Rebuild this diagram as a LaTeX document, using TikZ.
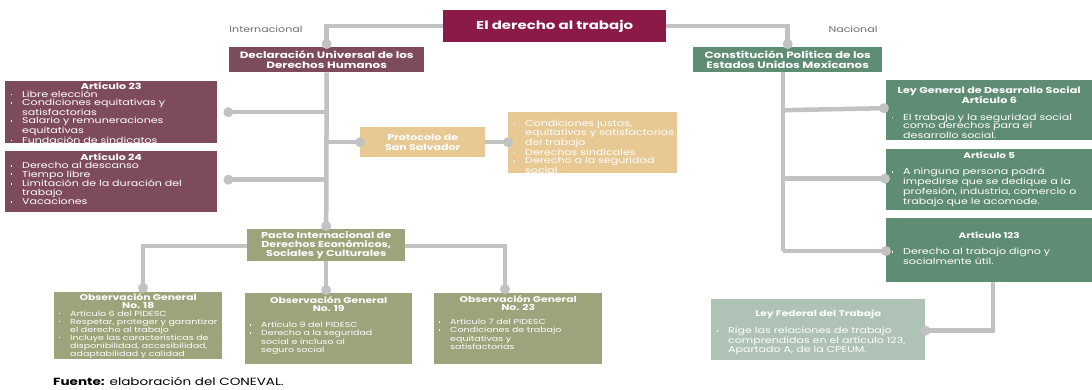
\documentclass[tikz,border=0pt]{standalone}
\usepackage{fontspec}
\setmainfont{Poppins}[FakeStretch=1.3]
\definecolor{crim}{HTML}{8C1A48}
\definecolor{mauve}{HTML}{7E4B5C}
\definecolor{tan}{HTML}{E8C994}
\definecolor{olive}{HTML}{9DA47B}
\definecolor{green}{HTML}{5F8D74}
\definecolor{sage}{HTML}{AEC3B5}
\definecolor{linegray}{HTML}{C2C2C2}
\definecolor{labgray}{HTML}{6E6E6E}
\newcommand{\tsz}{8.5}
% \bx{inner width}{height}{first baseline}{content}
\newcommand{\bx}[4]{\parbox[c][#2pt][t]{#1pt}{\kern\dimexpr#3pt-\baselineskip\relax\hbox{}#4}}
\newcommand{\bi}[1]{\par\noindent\makebox[13pt][l]{\hspace{1.5pt}\raisebox{2pt}{\rule{1.7pt}{1.7pt}}}\mbox{#1}}
\newcommand{\bc}[1]{\par\noindent\hspace*{13pt}\mbox{#1}}
\newcommand{\ttl}[1]{{\centering\bfseries\fontsize{\tsz}{\the\baselineskip}\selectfont #1\par}}
\tikzset{
  box/.style={draw=none, inner xsep=4pt, inner ysep=0pt, anchor=north west, text=white,
    font=\fontsize{8.5}{8.4}\selectfont},
  obs/.style={box, inner xsep=3pt, font=\fontsize{7.3}{8.2}\selectfont\def\tsz{8.3}},
  rbox/.style={box, font=\fontsize{8.5}{8.6}\selectfont\def\tsz{8}},
  head/.style={draw=none, inner sep=0pt, anchor=north west, text=white, align=center,
    font=\bfseries\fontsize{9.2}{10}\selectfont},
  conn/.style={draw=linegray, line width=4.5pt},
  dot/.style={circle, fill=linegray, minimum size=10pt, inner sep=0pt},
  lab/.style={text=labgray, font=\fontsize{8.5}{9}\selectfont, inner sep=0pt},
}
\begin{document}
\begin{tikzpicture}[x=1pt,y=-1pt]
\useasboundingbox (0,0) rectangle (1092,389);
% headers
\node[head, fill=crim, minimum width=223pt, minimum height=32pt, font=\bfseries\fontsize{11.5}{12}\selectfont] (title) at (443,10) {El derecho al trabajo};
\node[head, fill=mauve, minimum width=195pt, minimum height=25pt] (dudh) at (229,47) {Declaración Universal de los\\Derechos Humanos};
\node[head, fill=green, minimum width=189pt, minimum height=25pt] (cpeum) at (693,47) {Constitución Política de los\\Estados Unidos Mexicanos};
\node[lab] (intl) at (266,29) {Internacional};
\node[lab] (nac) at (853,29) {Nacional};
% international
\node[box, fill=mauve, font=\fontsize{8.5}{8.25}\selectfont] (a23) at (5,81) {\bx{204}{62}{8}{\ttl{Artículo 23}
  \bi{Libre elección}
  \bi{Condiciones equitativas y}\bc{satisfactorias}
  \bi{Salario y remuneraciones}\bc{equitativas}
  \bi{Fundación de sindicatos}}};
\node[box, fill=mauve] (a24) at (5,151) {\bx{204}{61}{9}{\ttl{Artículo 24}
  \bi{Derecho al descanso}
  \bi{Tiempo libre}
  \bi{Limitación de la duración del}\bc{trabajo}
  \bi{Vacaciones}}};
\node[head, fill=tan, minimum width=125pt, minimum height=30pt, font=\bfseries\fontsize{8.5}{9.5}\selectfont] (pss) at (360,127) {Protocolo de\\San Salvador};
\node[box, fill=tan] (pssl) at (508,112) {\bx{161}{61}{14}{%
  \bi{Condiciones justas,}\bc{equitativas y satisfactorias}\bc{del trabajo}
  \bi{Derechos sindicales}
  \bi{Derecho a la seguridad}\bc{social}}};
\node[head, fill=olive, minimum width=158pt, minimum height=32pt, font=\bfseries\fontsize{8.6}{9.4}\selectfont] (pacto) at (247,229) {Pacto Internacional de\\Derechos Económicos,\\Sociales y Culturales};
\node[obs, fill=olive, font=\fontsize{7.3}{8}\selectfont\def\tsz{8.3}] (o18) at (54,292) {\bx{162}{67}{8}{\ttl{Observación General\\No. 18}
  \bi{Artículo 6 del PIDESC}
  \bi{Respetar, proteger y garantizar}\bc{el derecho al trabajo}
  \bi{Incluye las características de}\bc{disponibilidad, accesibilidad,}\bc{adaptabilidad y calidad}}};
\node[obs, fill=olive] (o19) at (245,293) {\bx{161}{71}{10}{\ttl{Observación General\\No. 19}\vspace{8pt}
  \bi{Artículo 9 del PIDESC}
  \bi{Derecho a la seguridad}\bc{social e incluso al}\bc{seguro social}}};
\node[obs, fill=olive] (o23) at (434,293) {\bx{162}{71}{9}{\ttl{Observación General\\No. 23}\vspace{6pt}
  \bi{Artículo 7 del PIDESC}
  \bi{Condiciones de trabajo}\bc{equitativas y}\bc{satisfactorias}}};
% national
\node[rbox, fill=green] (lgds) at (886,80) {\bx{198}{60}{13}{\def\tsz{8.6}\ttl{Ley General de Desarrollo Social\\Artículo 6}\vspace{8pt}
  \bi{El trabajo y la seguridad social}\bc{como derechos para el}\bc{desarrollo social.}}};
\node[rbox, fill=green] (a5) at (886,149) {\bx{198}{61}{9}{\ttl{Artículo 5}\vspace{8pt}
  \bi{A ninguna persona podrá}\bc{impedirse que se dedique a la}\bc{profesión, industria, comercio o}\bc{trabajo que le acomode.}}};
\node[rbox, fill=green] (a123) at (886,218) {\bx{198}{64}{20}{\ttl{Artículo 123}\vspace{8pt}
  \bi{Derecho al trabajo digno y}\bc{socialmente útil.}}};
\node[rbox, fill=sage] (lft) at (711,299) {\bx{206}{61}{17}{\def\tsz{8.2}\ttl{Ley Federal del Trabajo}\vspace{8pt}
  \bi{Rige las relaciones de trabajo}\bc{comprendidas en el artículo 123,}\bc{Apartado A, de la CPEUM.}}};
\node[anchor=west, inner sep=0pt, font=\fontsize{10.4}{11}\selectfont] (src) at (53,381) {\textbf{Fuente:} elaboración del CONEVAL.};
% connectors
\draw[conn] (title.west) -| ([yshift=3pt]dudh.north) node[dot]{};
\draw[conn] (title.east) -| ([yshift=3pt]cpeum.north) node[dot]{};
\draw[conn] (dudh.south) -- ([yshift=3pt]pacto.north) node[dot]{};
\coordinate (d23) at ([xshift=11pt]a23.east);
\draw[conn] (d23 -| dudh.south) -- (d23) node[dot]{};
\coordinate (d24) at ([xshift=11pt,yshift=2pt]a24.east);
\draw[conn] (d24 -| dudh.south) -- (d24) node[dot]{};
\draw[conn] (pss.west -| dudh.south) -- (pss.west) node[dot]{};
\draw[conn] (pss.east) -- (pss.east -| pssl.west) node[dot]{};
\coordinate (p18) at (143,292);
\draw[conn] ([yshift=-17pt]pacto.north west) -| ([yshift=4pt]p18) node[dot]{};
\draw[conn] (pacto.south) -- ([yshift=3pt]o19.north -| pacto.south) node[dot]{};
\coordinate (p23) at (505,293);
\draw[conn] ([yshift=-17pt]pacto.north east) -| ([yshift=4pt]p23) node[dot]{};
\coordinate (trunkR) at (783,72);
\draw[conn] (trunkR) -- (trunkR |- a123.north) -- ++(0,33) coordinate (rb);
\draw[conn] (rb) -- (rb -| a123.west) node[dot]{};
\draw[conn] (trunkR |- lgds.west) -- ([xshift=-2pt,yshift=2pt]lgds.west) node[dot]{};
\draw[conn] ([yshift=1pt]trunkR |- a5.west) -- ([xshift=-1pt,yshift=1pt]a5.west) node[dot]{};
\coordinate (lb) at (993,282);
\draw[conn] (lb) |- ([yshift=-1pt]lft.east) node[dot]{};
\end{tikzpicture}
\end{document}
